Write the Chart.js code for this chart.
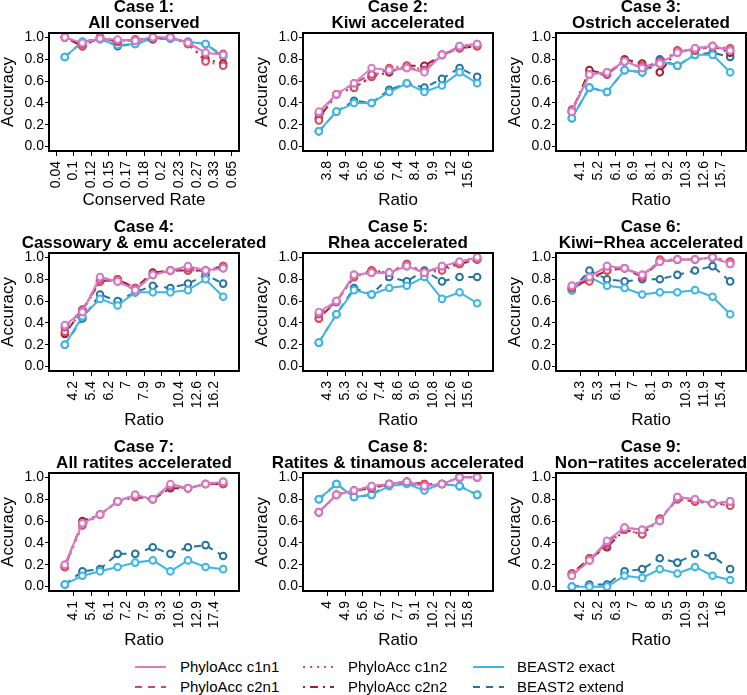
<!DOCTYPE html>
<html><head><meta charset="utf-8">
<script src="https://cdn.jsdelivr.net/npm/chart.js@4/dist/chart.umd.min.js"></script>
<style>
html,body{margin:0;padding:0;background:#fff;width:747px;height:695px;overflow:hidden;position:relative;font-family:'Liberation Sans',Arial,sans-serif;}
canvas.panel{position:absolute;}
.leg{position:absolute;font-size:15px;color:#000;white-space:nowrap;line-height:18px;height:18px;}
.leg svg{position:absolute;left:0;top:0;}
.leg span{position:absolute;top:0;}
</style></head><body>
<script>
// ---------- DATA ----------
const caseNames = ["All conserved","Kiwi accelerated","Ostrich accelerated","Cassowary & emu accelerated","Rhea accelerated","Kiwi\u2212Rhea accelerated","All ratites accelerated","Ratites & tinamous accelerated","Non\u2212ratites accelerated"];
const xTitles = ["Conserved Rate","Ratio","Ratio","Ratio","Ratio","Ratio","Ratio","Ratio","Ratio"];
const yTickValues = [0,0.2,0.4,0.6,0.8,1.0];

const c1_labels = ["0.04","0.1","0.12","0.15","0.17","0.18","0.2","0.23","0.27","0.33","0.65"];
const c1_c1n1  = [1.00,0.95,0.99,0.98,0.97,1.00,1.00,0.95,0.86,0.84];
const c1_c2n1  = [1.00,0.94,0.99,0.97,0.97,1.00,1.00,0.95,0.86,0.85];
const c1_c1n2  = [1.00,0.92,1.00,0.96,0.98,0.99,1.00,0.94,0.78,0.74];
const c1_c2n2  = [1.00,0.92,1.00,0.96,0.98,0.99,1.00,0.94,0.80,0.76];
const c1_exact = [0.82,0.96,0.98,0.93,0.94,0.99,0.99,0.96,0.94,0.82];
const c1_extend= [0.82,0.96,0.99,0.92,0.94,0.98,0.99,0.96,0.94,0.83];

const c2_labels = ["3.8","4.9","5.6","6.6","7.4","8.4","9.9","12","15.6"];
const c2_c1n1  = [0.32,0.48,0.58,0.72,0.70,0.72,0.68,0.84,0.92,0.94];
const c2_c2n1  = [0.30,0.48,0.58,0.66,0.70,0.72,0.70,0.84,0.92,0.94];
const c2_c1n2  = [0.24,0.48,0.54,0.64,0.72,0.74,0.70,0.84,0.90,0.92];
const c2_c2n2  = [0.26,0.48,0.54,0.64,0.68,0.74,0.74,0.84,0.90,0.92];
const c2_exact = [0.14,0.32,0.40,0.40,0.50,0.58,0.50,0.56,0.68,0.58];
const c2_extend= [0.14,0.32,0.42,0.40,0.52,0.58,0.54,0.62,0.72,0.64];

const c3_labels = ["4.1","5.2","6.1","6.9","8.1","9.2","10.3","12.6","15.7"];
const c3_c1n1  = [0.32,0.66,0.68,0.78,0.72,0.76,0.86,0.90,0.92,0.88];
const c3_c2n1  = [0.32,0.66,0.66,0.78,0.72,0.78,0.86,0.90,0.92,0.88];
const c3_c1n2  = [0.34,0.66,0.68,0.78,0.74,0.76,0.88,0.88,0.92,0.90];
const c3_c2n2  = [0.32,0.70,0.66,0.80,0.76,0.68,0.88,0.88,0.92,0.86];
const c3_exact = [0.26,0.54,0.50,0.70,0.68,0.78,0.74,0.84,0.84,0.68];
const c3_extend= [0.26,0.54,0.50,0.70,0.68,0.80,0.74,0.84,0.86,0.82];

const c4_labels = ["4.2","5.4","6.2","7","7.9","9","10.4","12.6","16.2"];
const c4_c1n1  = [0.38,0.50,0.82,0.78,0.70,0.84,0.88,0.92,0.88,0.90];
const c4_c2n1  = [0.36,0.52,0.80,0.78,0.70,0.84,0.88,0.90,0.88,0.90];
const c4_c1n2  = [0.32,0.50,0.78,0.80,0.72,0.84,0.88,0.88,0.88,0.92];
const c4_c2n2  = [0.30,0.52,0.78,0.80,0.72,0.86,0.88,0.88,0.88,0.92];
const c4_exact = [0.20,0.46,0.62,0.56,0.68,0.68,0.68,0.70,0.80,0.64];
const c4_extend= [0.20,0.44,0.66,0.60,0.68,0.74,0.72,0.76,0.84,0.76];

const c5_labels = ["4.3","5.3","6.2","7.4","8.6","9.6","10.8","12.6","15.6"];
const c5_c1n1  = [0.50,0.60,0.84,0.86,0.86,0.92,0.86,0.92,0.96,1.00];
const c5_c2n1  = [0.48,0.59,0.84,0.86,0.86,0.92,0.86,0.92,0.96,1.00];
const c5_c1n2  = [0.44,0.60,0.82,0.88,0.86,0.94,0.86,0.88,0.94,0.98];
const c5_c2n2  = [0.44,0.60,0.82,0.88,0.86,0.94,0.86,0.90,0.94,0.98];
const c5_exact = [0.22,0.48,0.70,0.66,0.72,0.74,0.82,0.62,0.68,0.58];
const c5_extend= [0.22,0.48,0.72,0.66,0.82,0.78,0.88,0.78,0.82,0.82];

const c6_labels = ["4.3","5.3","6.1","7","8.1","9","10.3","11.9","15.4"];
const c6_c1n1  = [0.74,0.82,0.92,0.90,0.84,0.96,0.98,0.98,1.00,0.94];
const c6_c2n1  = [0.74,0.82,0.92,0.90,0.84,0.96,0.98,0.98,1.00,0.94];
const c6_c1n2  = [0.72,0.78,0.88,0.90,0.82,0.98,0.98,0.98,1.00,0.96];
const c6_c2n2  = [0.72,0.80,0.88,0.90,0.82,0.96,0.98,0.98,1.00,0.96];
const c6_exact = [0.70,0.82,0.74,0.72,0.66,0.68,0.68,0.70,0.64,0.48];
const c6_extend= [0.70,0.88,0.80,0.78,0.80,0.80,0.84,0.88,0.92,0.78];

const c7_labels = ["4.1","5.4","6.1","7.2","7.9","9.3","10.6","12.9","17.4"];
const c7_c1n1  = [0.20,0.58,0.66,0.78,0.84,0.80,0.94,0.90,0.94,0.96];
const c7_c2n1  = [0.20,0.58,0.66,0.78,0.84,0.80,0.92,0.90,0.94,0.96];
const c7_c1n2  = [0.18,0.56,0.66,0.78,0.82,0.80,0.92,0.90,0.94,0.94];
const c7_c2n2  = [0.18,0.60,0.66,0.78,0.82,0.80,0.90,0.90,0.94,0.94];
const c7_exact = [0.02,0.10,0.14,0.18,0.22,0.24,0.14,0.24,0.18,0.16];
const c7_extend= [0.02,0.14,0.16,0.30,0.30,0.36,0.30,0.36,0.38,0.28];

const c8_labels = ["4","4.9","5.6","6.7","7.7","9.1","10.2","12.2","15.8"];
const c8_c1n1  = [0.68,0.84,0.88,0.92,0.94,0.96,0.92,0.94,1.00,1.00];
const c8_c2n1  = [0.68,0.84,0.88,0.92,0.94,0.96,0.92,0.94,1.00,1.00];
const c8_c1n2  = [0.68,0.84,0.88,0.90,0.94,0.96,0.94,0.94,1.00,1.00];
const c8_c2n2  = [0.68,0.84,0.88,0.90,0.94,0.96,0.94,0.94,1.00,1.00];
const c8_exact = [0.80,0.94,0.82,0.84,0.92,0.94,0.88,0.94,0.92,0.84];
const c8_extend= [0.80,0.94,0.82,0.84,0.94,0.96,0.90,0.94,0.92,0.84];

const c9_labels = ["4.2","5.2","6.3","7","8","9.5","10.9","12.9","16"];
const c9_c1n1  = [0.10,0.24,0.42,0.54,0.52,0.60,0.82,0.80,0.76,0.78];
const c9_c2n1  = [0.10,0.24,0.40,0.54,0.52,0.60,0.82,0.80,0.76,0.78];
const c9_c1n2  = [0.12,0.26,0.38,0.52,0.48,0.62,0.80,0.78,0.76,0.74];
const c9_c2n2  = [0.12,0.26,0.36,0.52,0.48,0.62,0.80,0.78,0.76,0.75];
const c9_exact = [0.00,0.00,0.00,0.10,0.08,0.16,0.12,0.18,0.10,0.06];
const c9_extend= [0.00,0.02,0.02,0.14,0.16,0.26,0.22,0.30,0.28,0.16];

// ---------- ASSEMBLY ----------
const cases = [
 {labels:c1_labels, s:[c1_c1n1,c1_c2n1,c1_c1n2,c1_c2n2,c1_exact,c1_extend]},
 {labels:c2_labels, s:[c2_c1n1,c2_c2n1,c2_c1n2,c2_c2n2,c2_exact,c2_extend]},
 {labels:c3_labels, s:[c3_c1n1,c3_c2n1,c3_c1n2,c3_c2n2,c3_exact,c3_extend]},
 {labels:c4_labels, s:[c4_c1n1,c4_c2n1,c4_c1n2,c4_c2n2,c4_exact,c4_extend]},
 {labels:c5_labels, s:[c5_c1n1,c5_c2n1,c5_c1n2,c5_c2n2,c5_exact,c5_extend]},
 {labels:c6_labels, s:[c6_c1n1,c6_c2n1,c6_c1n2,c6_c2n2,c6_exact,c6_extend]},
 {labels:c7_labels, s:[c7_c1n1,c7_c2n1,c7_c1n2,c7_c2n2,c7_exact,c7_extend]},
 {labels:c8_labels, s:[c8_c1n1,c8_c2n1,c8_c1n2,c8_c2n2,c8_exact,c8_extend]},
 {labels:c9_labels, s:[c9_c1n1,c9_c2n1,c9_c1n2,c9_c2n2,c9_exact,c9_extend]}
];
const seriesStyles = [
 {label:'PhyloAcc c1n1', color:'#D47DC7', dash:[]},
 {label:'PhyloAcc c2n1', color:'#C8448E', dash:[7,6]},
 {label:'PhyloAcc c1n2', color:'#E04B58', dash:[2,5]},
 {label:'PhyloAcc c2n2', color:'#9E1D2F', dash:[2,5,8,5]},
 {label:'BEAST2 exact',  color:'#3DB6E5', dash:[]},
 {label:'BEAST2 extend', color:'#26739E', dash:[7,6]}
];

const FONT = "'Liberation Sans', Arial, Helvetica, sans-serif";
Chart.defaults.font.family = FONT;
Chart.defaults.color = '#000';

const colLeft = [0, 254, 507];
const rowTop = [-1, 219, 439];
const Y_W = 49, X_H = 58, PLOT_W = 190, PLOT_H = 118, TITLE_H = 34;

const framePlugin = {
  id: 'frame',
  afterDatasetsDraw(chart) {
    const {ctx, chartArea: a} = chart;
    ctx.save();
    ctx.strokeStyle = '#000';
    ctx.lineWidth = 2;
    ctx.strokeRect(a.left, a.top, a.right - a.left, a.bottom - a.top);
    ctx.restore();
  }
};

cases.forEach((cs, k) => {
  const c = k % 3, r = Math.floor(k / 3);
  const cv = document.createElement('canvas');
  cv.className = 'panel';
  cv.width = Y_W + PLOT_W + Y_W;
  cv.height = TITLE_H + PLOT_H + X_H;
  cv.style.left = colLeft[c] + 'px';
  cv.style.top = rowTop[r] + 'px';
  document.body.appendChild(cv);
  const nTicks = cs.labels.length;
  const tickPos = cs.labels.map((_, i) => nTicks === 11 ? 0.5 + i : 1.5 + i);
  const datasets = cs.s.map((vals, j) => ({
    label: seriesStyles[j].label,
    data: vals.map((v, i) => ({x: i + 1, y: v})),
    borderColor: seriesStyles[j].color,
    borderWidth: 2,
    borderDash: seriesStyles[j].dash,
    pointRadius: 3.3,
    pointBorderWidth: 2,
    pointBorderColor: seriesStyles[j].color,
    pointBackgroundColor: '#fff',
    fill: false,
    tension: 0
  }));
  new Chart(cv, {
    type: 'line',
    data: {datasets},
    plugins: [framePlugin],
    options: {
      responsive: false,
      animation: false,
      events: [],
      layout: {padding: 0},
      plugins: {
        legend: {display: false},
        tooltip: {enabled: false},
        title: {display: true, text: ['Case ' + (k + 1) + ':', caseNames[k]], color: '#000',
                font: {size: 17, weight: 'bold', lineHeight: '16px'}, padding: {top: 0, bottom: 2}, fullSize: true}
      },
      scales: {
        x: {
          type: 'linear', min: 0.1, max: 10.9,
          afterBuildTicks: s => { s.ticks = tickPos.map(v => ({value: v})); },
          afterFit: s => { s.height = X_H; },
          ticks: {autoSkip: false, maxRotation: 90, minRotation: 90, padding: 5, color: '#000',
                  font: {size: 14}, callback: (v, i) => cs.labels[i]},
          grid: {display: true, drawOnChartArea: false, drawTicks: true, tickLength: 5, color: '#000', lineWidth: 1},
          border: {display: false},
          title: {display: true, text: xTitles[k], color: '#000', font: {size: 17, lineHeight: 1}, padding: {top: 0, bottom: 0}}
        },
        y: {
          min: -0.04, max: 1.04,
          afterBuildTicks: s => { s.ticks = yTickValues.map(v => ({value: v})); },
          afterFit: s => { s.width = Y_W; },
          ticks: {padding: 1, color: '#000', font: {size: 14}, callback: v => v.toFixed(1)},
          grid: {display: true, drawOnChartArea: false, drawTicks: true, tickLength: 4, color: '#000', lineWidth: 1},
          border: {display: false},
          title: {display: true, text: 'Accuracy', color: '#000', font: {size: 17, lineHeight: 1}, padding: {top: 0, bottom: 0}}
        },
        yRight: {
          axis: 'y', position: 'right', display: true, min: 0, max: 1,
          afterFit: s => { s.width = Y_W; },
          ticks: {display: false},
          grid: {display: false},
          border: {display: false}
        }
      }
    }
  });
});

// ---------- LEGEND ----------
const legendPos = [
  {x:135, y:658}, {x:135, y:678},
  {x:303, y:658}, {x:303, y:678},
  {x:473, y:658}, {x:473, y:678}
];
seriesStyles.forEach((st, idx) => {
  const p = legendPos[idx];
  const d = document.createElement('div');
  d.className = 'leg';
  d.style.left = p.x + 'px';
  d.style.top = p.y + 'px';
  d.style.width = '200px';
  const dash = st.dash.length ? st.dash.join(',') : 'none';
  d.innerHTML = '<svg width="34" height="18"><line x1="0" y1="9" x2="31" y2="9" stroke="' + st.color +
    '" stroke-width="2" stroke-dasharray="' + dash + '"/></svg><span style="left:' + (idx < 4 ? 45 : 44) + 'px">' + st.label + '</span>';
  document.body.appendChild(d);
});
</script>
</body></html>
